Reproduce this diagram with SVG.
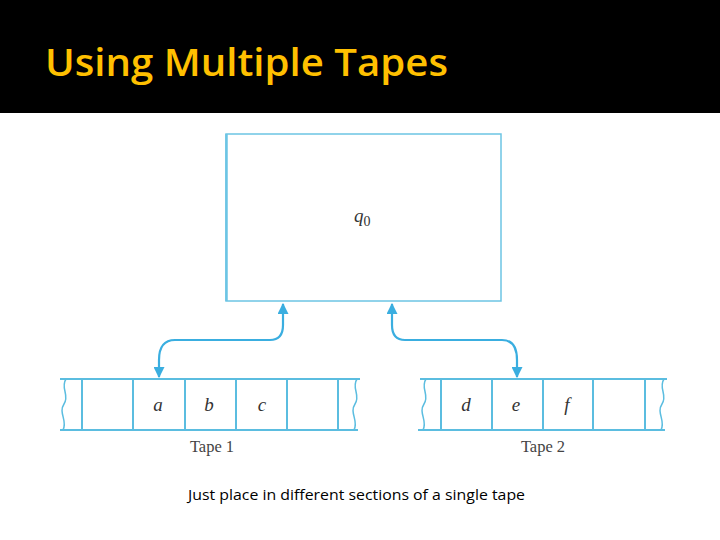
<svg xmlns="http://www.w3.org/2000/svg" width="720" height="540" viewBox="0 0 720 540">
<style>
.ln{stroke:#5bbde0;fill:none;stroke-width:2}
.cell{stroke:#5bbde0;stroke-width:2}
.wv{stroke:#5bbde0;fill:none;stroke-width:1.5}
.sym{font-family:"Liberation Serif",serif;font-style:italic;font-size:19px;fill:#333}
.lab{font-family:"Liberation Serif",serif;font-size:16.5px;fill:#444}
.con{stroke:#3aaee0;fill:none;stroke-width:2.2}
</style>
<defs>
<marker id="ah" viewBox="0 0 10 10" refX="9" refY="5" markerWidth="5" markerHeight="5" orient="auto" markerUnits="strokeWidth">
<path d="M0,0 L10,5 L0,10 z" fill="#3aaee0"/>
</marker>
</defs>
<rect x="0" y="0" width="720" height="540" fill="#fff"/>
<rect x="0" y="0" width="720" height="113" fill="#000"/>
<text x="45" y="76" font-family="'Open Sans',sans-serif" font-weight="600" font-size="37" fill="#ffc000" textLength="403" lengthAdjust="spacingAndGlyphs">Using Multiple Tapes</text>

<g id="control">
<rect x="226" y="134" width="275" height="167" fill="#fff" stroke="#6cc5e4" stroke-width="1.5"/>
<line x1="226.5" y1="134" x2="226.5" y2="301" stroke="#6cc5e4" stroke-width="2.5"/>
<text x="354" y="222" class="sym">q<tspan font-style="normal" font-size="14" dy="4">0</tspan></text>
</g>

<g id="tape1">
<line x1="60" y1="379" x2="360" y2="379" class="ln" stroke-width="2.5"/>
<line x1="60" y1="430" x2="358" y2="430" class="ln"/>
<path class="wv" d="M66,379 C60,388 70,395 64,404 C58,413 68,421 63,430"/>
<path class="wv" d="M357,379 C351,388 361,395 355,404 C349,413 359,421 354,430"/>
<line x1="82" y1="379" x2="82" y2="430" class="cell"/>
<line x1="133" y1="379" x2="133" y2="430" class="cell" stroke-width="2.5"/>
<line x1="185" y1="379" x2="185" y2="430" class="cell"/>
<line x1="236" y1="379" x2="236" y2="430" class="cell"/>
<line x1="287" y1="379" x2="287" y2="430" class="cell" stroke-width="2.5"/>
<line x1="338" y1="379" x2="338" y2="430" class="cell"/>
<text x="158" y="411" class="sym" text-anchor="middle">a</text>
<text x="209" y="411" class="sym" text-anchor="middle">b</text>
<text x="262" y="411" class="sym" text-anchor="middle">c</text>
<text x="212" y="452" class="lab" text-anchor="middle">Tape 1</text>
</g>

<g id="tape2">
<line x1="420" y1="379" x2="667" y2="379" class="ln" stroke-width="2.5"/>
<line x1="418" y1="430" x2="665" y2="430" class="ln"/>
<path class="wv" d="M426,379 C420,388 430,395 424,404 C418,413 428,421 423,430"/>
<path class="wv" d="M664,379 C658,388 668,395 662,404 C656,413 666,421 661,430"/>
<line x1="441" y1="379" x2="441" y2="430" class="cell"/>
<line x1="492" y1="379" x2="492" y2="430" class="cell" stroke-width="2.5"/>
<line x1="543" y1="379" x2="543" y2="430" class="cell"/>
<line x1="593" y1="379" x2="593" y2="430" class="cell" stroke-width="2.5"/>
<line x1="645" y1="379" x2="645" y2="430" class="cell"/>
<text x="466" y="411" class="sym" text-anchor="middle">d</text>
<text x="516" y="411" class="sym" text-anchor="middle">e</text>
<text x="567" y="411" class="sym" text-anchor="middle">f</text>
<text x="543" y="452" class="lab" text-anchor="middle">Tape 2</text>
</g>

<g id="connectors">
<path class="con" d="M159,360 Q159,340 175,340 H270 Q283,340 283,325 V304" marker-end="url(#ah)"/>
<path class="con" d="M159,360 V377" marker-end="url(#ah)"/>
<path class="con" d="M517,360 Q517,340 502,340 H405 Q392,340 392,325 V304" marker-end="url(#ah)"/>
<path class="con" d="M517,360 V377" marker-end="url(#ah)"/>
</g>

<text x="188" y="500" font-family="'Open Sans',sans-serif" font-size="15" fill="#000" textLength="337" lengthAdjust="spacingAndGlyphs">Just place in different sections of a single tape</text>
</svg>
